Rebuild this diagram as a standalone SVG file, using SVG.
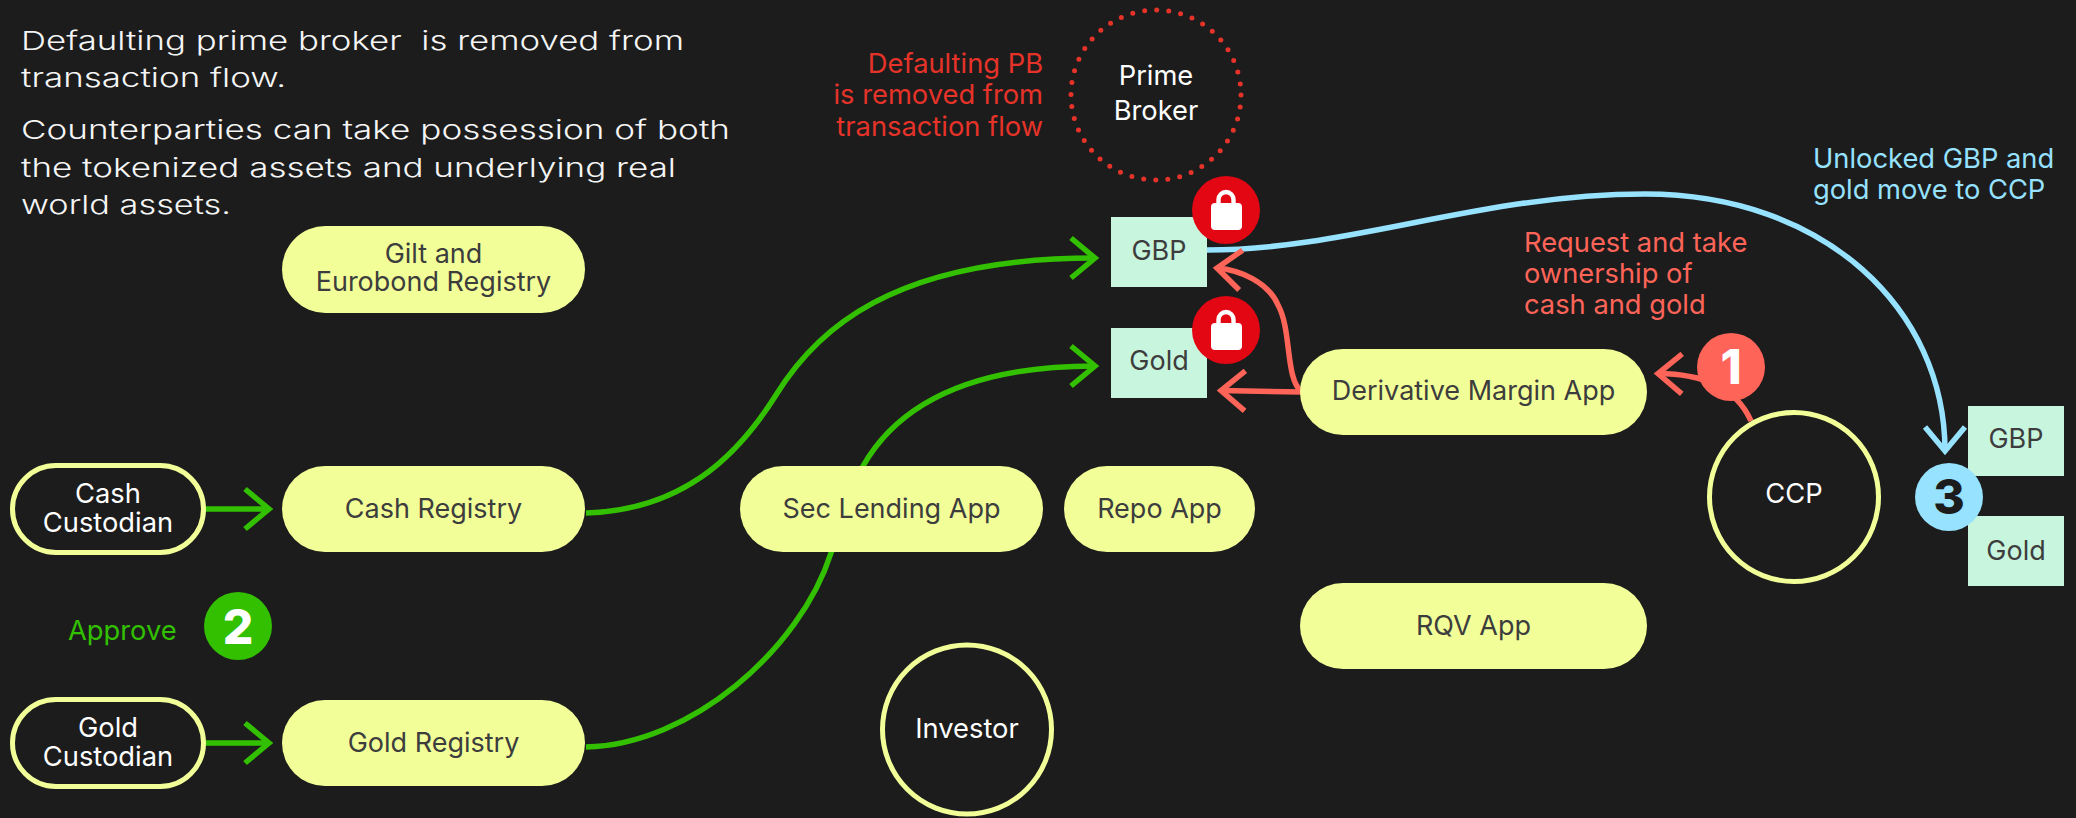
<svg xmlns="http://www.w3.org/2000/svg" width="2076" height="818" viewBox="0 0 2076 818">
<style>
text{font-family:Inter,"Noto Sans","Liberation Sans",sans-serif;font-size:27.3px;white-space:pre}
.intro{fill:#f5f5f5;font-weight:300;font-size:26px}
.c{text-anchor:middle}
.dk{fill:#3d3d3d;font-size:27px}
.wh{fill:#ffffff}
.pill{fill:#f2ff99}
.opill{fill:#1c1c1c;stroke:#f2ff99;stroke-width:5}
.tok{fill:#c8f5dd}
.line{fill:none;stroke-width:5.500}
.g{stroke:#32c000}.r{stroke:#ff6459}.b{stroke:#96e2ff}
.num{font-weight:800;font-size:48px;text-anchor:middle}
</style>
<defs>
<marker id="ag" markerUnits="userSpaceOnUse" markerWidth="60" markerHeight="60" refX="30" refY="30" orient="auto"><path d="M6 10L30 30L6 50" fill="none" stroke="#32c000" stroke-width="5.500"/></marker>
<marker id="ar" markerUnits="userSpaceOnUse" markerWidth="60" markerHeight="60" refX="30" refY="30" orient="auto"><path d="M6 10L30 30L6 50" fill="none" stroke="#ff6459" stroke-width="5.500"/></marker>
<marker id="ab" markerUnits="userSpaceOnUse" markerWidth="60" markerHeight="60" refX="30" refY="30" orient="auto"><path d="M6 10L30 30L6 50" fill="none" stroke="#96e2ff" stroke-width="5.500"/></marker>
<g id="lock"><path d="M-7.500 -7V-10.500a7.500 7.500 0 0 1 15 0V-7" fill="none" stroke="#fff" stroke-width="4.400"/><rect x="-15" y="-7" width="31" height="27" rx="4" fill="#fff"/></g>
</defs>
<rect width="2076" height="818" fill="#1c1c1c"/>
<g id="intro-text">
<text class="intro" x="21" y="50" textLength="663" lengthAdjust="spacingAndGlyphs">Defaulting prime broker  is removed from</text>
<text class="intro" x="21" y="87" textLength="265" lengthAdjust="spacingAndGlyphs">transaction flow.</text>
<text class="intro" x="21" y="139" textLength="709" lengthAdjust="spacingAndGlyphs">Counterparties can take possession of both</text>
<text class="intro" x="21" y="177" textLength="655" lengthAdjust="spacingAndGlyphs">the tokenized assets and underlying real</text>
<text class="intro" x="21" y="214" textLength="210" lengthAdjust="spacingAndGlyphs">world assets.</text>
</g>
<g id="connectors">
<path class="line g" d="M205 509H269" marker-end="url(#ag)"/>
<path class="line g" d="M205 743H269" marker-end="url(#ag)"/>
<path class="line g" d="M586 513C680 510 735 460 776 395C815 332 890 258 1095 258" marker-end="url(#ag)"/>
<path class="line g" d="M586 747C690 745 800 650 831 553L863 466C895 410 960 366 1095 366" marker-end="url(#ag)"/>
<path class="line b" d="M1207 250C1350 250 1480 194 1645 194C1825 194 1945 310 1945 451" marker-end="url(#ab)"/>
<path class="line r" d="M1302 392C1285 380 1292 330 1278 305C1268 282 1240 270 1217 268" marker-end="url(#ar)"/>
<path class="line r" d="M1302 392L1221 390.500" marker-end="url(#ar)"/>
<path class="line r" d="M1751 421C1735 385 1700 374 1658 373.500" marker-end="url(#ar)"/>
</g>
<g id="gilt-registry"><rect class="pill" x="282" y="226" width="303" height="87" rx="43.500"/><text class="c dk" x="433.500" y="263">Gilt and</text><text class="c dk" x="433.500" y="291">Eurobond Registry</text></g>
<g id="cash-custodian"><rect class="opill" x="12.500" y="465.500" width="191" height="87" rx="43.500"/><text class="c wh" x="108" y="503">Cash</text><text class="c wh" x="108" y="532">Custodian</text></g>
<g id="cash-registry"><rect class="pill" x="282" y="466" width="303" height="86" rx="43"/><text class="c dk" x="433.500" y="518">Cash Registry</text></g>
<g id="gold-custodian"><rect class="opill" x="12.500" y="699.500" width="191" height="87" rx="43.500"/><text class="c wh" x="108" y="737">Gold</text><text class="c wh" x="108" y="766">Custodian</text></g>
<g id="gold-registry"><rect class="pill" x="282" y="700" width="303" height="86" rx="43"/><text class="c dk" x="433.500" y="752">Gold Registry</text></g>
<g id="sec-lending-app"><rect class="pill" x="740" y="466" width="303" height="86" rx="43"/><text class="c dk" x="891.500" y="518">Sec Lending App</text></g>
<g id="repo-app"><rect class="pill" x="1064" y="466" width="191" height="86" rx="43"/><text class="c dk" x="1159.500" y="518">Repo App</text></g>
<g id="derivative-margin-app"><rect class="pill" x="1300" y="349" width="347" height="86" rx="43"/><text class="c dk" x="1473.500" y="400">Derivative Margin App</text></g>
<g id="rqv-app"><rect class="pill" x="1300" y="583" width="347" height="86" rx="43"/><text class="c dk" x="1473.500" y="635">RQV App</text></g>
<g id="investor"><circle cx="967" cy="729.500" r="84.500" fill="#1c1c1c" stroke="#f2ff99" stroke-width="5"/><text class="c wh" x="967" y="738">Investor</text></g>
<g id="ccp"><circle cx="1794" cy="497" r="84.500" fill="#1c1c1c" stroke="#f2ff99" stroke-width="5"/><text class="c wh" x="1794" y="503">CCP</text></g>
<g id="prime-broker"><circle cx="1156" cy="95" r="85" fill="none" stroke="#e63329" stroke-width="5" stroke-linecap="round" stroke-dasharray="0 12.140"/><text class="c wh" x="1156" y="85">Prime</text><text class="c wh" x="1156" y="120">Broker</text></g>
<g id="pb-label" style="fill:#e63329;text-anchor:end"><text x="1043" y="73">Defaulting PB</text><text x="1043" y="104">is removed from</text><text x="1043" y="136">transaction flow</text></g>
<g id="gbp-token"><rect class="tok" x="1111" y="217" width="96" height="70"/><text class="c dk" x="1159" y="260">GBP</text></g>
<g id="gold-token"><rect class="tok" x="1111" y="328" width="96" height="70"/><text class="c dk" x="1159" y="370">Gold</text></g>
<g id="lock-gbp"><circle cx="1226" cy="210" r="34" fill="#e30613"/><use href="#lock" x="1226" y="210"/></g>
<g id="lock-gold"><circle cx="1226" cy="330" r="34" fill="#e30613"/><use href="#lock" x="1226" y="330"/></g>
<g id="request-label" style="fill:#ff6459"><text x="1524" y="252">Request and take</text><text x="1524" y="283">ownership of</text><text x="1524" y="314">cash and gold</text></g>
<g id="unlocked-label" style="fill:#96e2ff"><text x="1813" y="168">Unlocked GBP and</text><text x="1813" y="199">gold move to CCP</text></g>
<g id="approve-label"><text x="68" y="640" style="fill:#32c000">Approve</text></g>
<g id="gbp-ccp"><rect class="tok" x="1968" y="406" width="96" height="70"/><text class="c dk" x="2016" y="448">GBP</text></g>
<g id="gold-ccp"><rect class="tok" x="1968" y="516" width="96" height="70"/><text class="c dk" x="2016" y="560">Gold</text></g>
<g id="step-1"><circle cx="1731" cy="367" r="34" fill="#ff6459"/><text class="num wh" x="1731" y="384">1</text></g>
<g id="step-2"><circle cx="238" cy="626" r="34" fill="#32c000"/><text class="num wh" x="238" y="644">2</text></g>
<g id="step-3"><circle cx="1949" cy="497" r="34" fill="#96e2ff"/><text class="num" x="1949" y="514" style="fill:#1c1c1c">3</text></g>
</svg>
